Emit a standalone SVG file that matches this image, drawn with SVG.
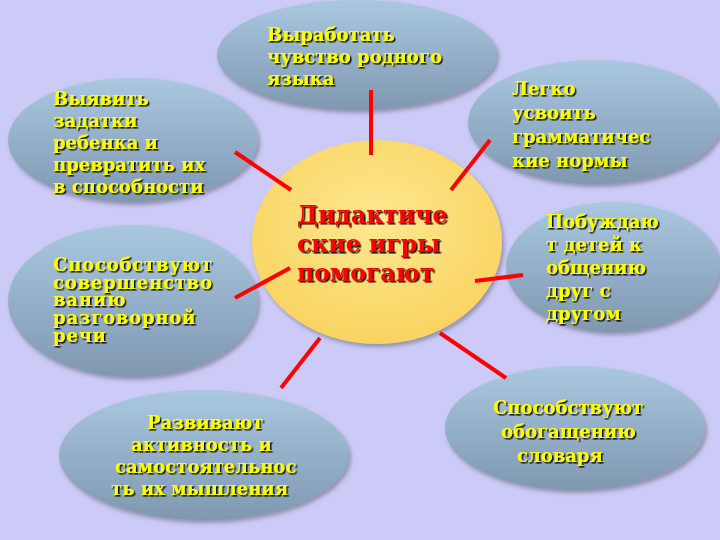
<svg xmlns="http://www.w3.org/2000/svg" width="720" height="540" viewBox="0 0 720 540">
<style>
.b{fill:url(#gb);filter:url(#sh)}
.t{font-family:"DejaVu Serif",serif;font-weight:bold;font-size:18px;fill:#ffff00;filter:url(#ts)}
.c{font-family:"DejaVu Serif",serif;font-weight:bold;font-size:23.5px;fill:#ff0000;filter:url(#ts)}
line{stroke:#ff0000;stroke-width:4}
</style>
<defs>
<linearGradient id="gb" x1="0" y1="0" x2="0" y2="1"><stop offset="0" stop-color="#a9c8e0"/><stop offset="1" stop-color="#7f98b0"/></linearGradient>
<radialGradient id="gy" cx="0.5" cy="0.4" r="0.6"><stop offset="0" stop-color="#ffe890"/><stop offset="1" stop-color="#f8d460"/></radialGradient>
<filter id="sh" x="-10%" y="-10%" width="120%" height="130%"><feDropShadow dx="2" dy="3" stdDeviation="2" flood-color="#556" flood-opacity="0.5"/></filter>
<filter id="ts"><feDropShadow dx="1.5" dy="1.5" stdDeviation="0" flood-color="#111" flood-opacity="1"/></filter>
</defs>
<rect width="720" height="540" fill="#cccbf8"/>
<g id="n1"><ellipse class="b" cx="357" cy="55" rx="140" ry="55"/><text class="t"><tspan x="267" y="41">Выработать</tspan><tspan x="267" y="63">чувство родного</tspan><tspan x="267" y="85">языка</tspan></text></g>
<g id="n2"><ellipse class="b" cx="133" cy="140" rx="125" ry="62"/><text class="t"><tspan x="53" y="105">Выявить</tspan><tspan x="53" y="127">задатки</tspan><tspan x="53" y="149">ребенка и</tspan><tspan x="53" y="171">превратить их</tspan><tspan x="53" y="193">в способности</tspan></text></g>
<g id="n3"><ellipse class="b" cx="595" cy="122" rx="127" ry="62"/><text class="t" font-size="19"><tspan x="512" y="95">Легко</tspan><tspan x="512" y="119">усвоить</tspan><tspan x="512" y="143">грамматичес</tspan><tspan x="512" y="167">кие  нормы</tspan></text></g>
<g id="n4"><ellipse class="b" cx="613" cy="267" rx="107" ry="65"/><text class="t"><tspan x="546" y="228">Побуждаю</tspan><tspan x="546" y="251">т детей к</tspan><tspan x="546" y="274">общению</tspan><tspan x="546" y="297">друг с</tspan><tspan x="546" y="320">другом</tspan></text></g>
<g id="n5"><ellipse class="b" cx="133" cy="301" rx="125" ry="76"/><text class="t" font-size="15.5" letter-spacing="0.8"><tspan x="53" y="271">Способствуют</tspan><tspan x="53" y="289">совершенство</tspan><tspan x="53" y="306">ванию</tspan><tspan x="53" y="324">разговорной</tspan><tspan x="53" y="342">речи</tspan></text></g>
<g id="n6"><ellipse class="b" cx="575" cy="428" rx="130" ry="62"/><text class="t" font-size="19"><tspan x="493" y="414">Способствуют</tspan><tspan x="501" y="438">обогащению</tspan><tspan x="517" y="462">словаря</tspan></text></g>
<g id="n7"><ellipse class="b" cx="204" cy="455" rx="145" ry="65"/><text class="t"><tspan x="147" y="429">Развивают</tspan><tspan x="131" y="451">активность  и</tspan><tspan x="115" y="473">самостоятельнос</tspan><tspan x="111" y="495">ть их мышления</tspan></text></g>
<g id="center"><ellipse cx="377" cy="242" rx="125" ry="102" fill="url(#gy)" filter="url(#sh)"/><text class="c"><tspan x="297" y="223">Дидактиче</tspan><tspan x="297" y="252">ские игры</tspan><tspan x="297" y="281">помогают</tspan></text></g>
<g id="connectors">
<line x1="371" y1="90" x2="371" y2="155"/>
<line x1="235" y1="152" x2="291" y2="190"/>
<line x1="490" y1="140" x2="451" y2="190"/>
<line x1="235" y1="298" x2="290" y2="268"/>
<line x1="475" y1="281" x2="523" y2="275"/>
<line x1="440" y1="333" x2="506" y2="378"/>
<line x1="320" y1="338" x2="281" y2="388"/>
</g>
</svg>
